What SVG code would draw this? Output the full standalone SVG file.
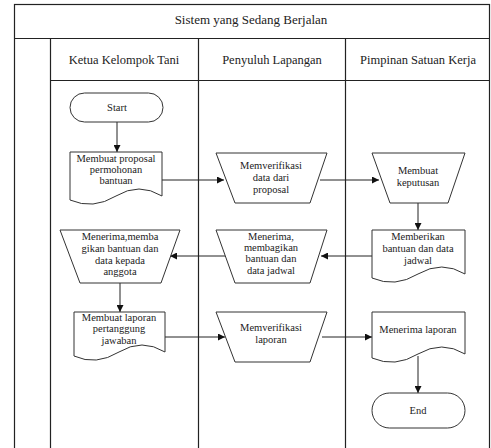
<svg xmlns="http://www.w3.org/2000/svg" width="491" height="448" viewBox="0 0 491 448">
<style>
.frame{fill:none;stroke:#222;stroke-width:1.2}
.shape{fill:#fff;stroke:#333;stroke-width:1}
.conn{fill:none;stroke:#222;stroke-width:1;marker-end:url(#arr)}
.t{font-size:10.5px}
.h{font-size:12.5px}
.ti{font-size:13px}
</style>
<defs>
<marker id="arr" viewBox="0 0 10 10" refX="10" refY="5" markerWidth="7" markerHeight="7" orient="auto" markerUnits="userSpaceOnUse">
<path d="M0,0 L10,5 L0,10 Z" fill="#111"/>
</marker>
</defs>
<rect x="0" y="0" width="491" height="448" fill="#fff"/>
<g font-family="Liberation Serif, DejaVu Serif, serif" fill="#222" text-anchor="middle">
<g id="frame">
<rect class="frame" x="14.5" y="4.5" width="475" height="450"/>
<line class="frame" x1="14" y1="38.5" x2="490" y2="38.5"/>
<line class="frame" x1="50.5" y1="38" x2="50.5" y2="448"/>
<line class="frame" x1="50" y1="80.5" x2="490" y2="80.5"/>
<line class="frame" x1="198.5" y1="38" x2="198.5" y2="448"/>
<line class="frame" x1="345.5" y1="38" x2="345.5" y2="448"/>
<text class="ti" x="251" y="24">Sistem yang Sedang Berjalan</text>
<text class="h" x="124" y="64">Ketua Kelompok Tani</text>
<text class="h" x="272" y="64">Penyuluh Lapangan</text>
<text class="h" x="418" y="64">Pimpinan Satuan Kerja</text>
</g>
<g id="connectors">
<line class="conn" x1="117" y1="122" x2="117" y2="152"/>
<line class="conn" x1="162" y1="180" x2="224" y2="180"/>
<line class="conn" x1="320" y1="180" x2="379" y2="180"/>
<line class="conn" x1="418" y1="203" x2="418" y2="230"/>
<line class="conn" x1="372" y1="256" x2="321" y2="256"/>
<line class="conn" x1="225" y1="256" x2="170" y2="256"/>
<line class="conn" x1="120" y1="283" x2="120" y2="312"/>
<line class="conn" x1="165" y1="337" x2="225" y2="337"/>
<line class="conn" x1="322" y1="337" x2="372" y2="337"/>
<line class="conn" x1="418" y1="356" x2="418" y2="393"/>
</g>
<g id="start">
<rect class="shape" x="70" y="93" width="93" height="29" rx="14.5"/>
<text class="t" x="117" y="111">Start</text>
</g>
<g id="doc-proposal">
<path class="shape" d="M70,152 H162 V196 Q139,182 116,196 Q93,210 70,200 Z"/>
<text class="t" x="116" y="162">Membuat proposal</text>
<text class="t" x="116" y="173">permohonan</text>
<text class="t" x="116" y="184">bantuan</text>
</g>
<g id="verif-data">
<path class="shape" d="M216,153 H327 L310,203 H235 Z"/>
<text class="t" x="271" y="169">Memverifikasi</text>
<text class="t" x="271" y="181">data dari</text>
<text class="t" x="271" y="193">proposal</text>
</g>
<g id="keputusan">
<path class="shape" d="M372,153 H465 L448,203 H390 Z"/>
<text class="t" x="418" y="174">Membuat</text>
<text class="t" x="418" y="186">keputusan</text>
</g>
<g id="memberikan">
<path class="shape" d="M372,230 H465 V274 Q442,260 418,274 Q395,288 372,278 Z"/>
<text class="t" x="418" y="240">Memberikan</text>
<text class="t" x="418" y="252">bantuan dan data</text>
<text class="t" x="418" y="264">jadwal</text>
</g>
<g id="menerima-membagikan">
<path class="shape" d="M216,230 H327 L310,283 H235 Z"/>
<text class="t" x="271" y="240">Menerima,</text>
<text class="t" x="271" y="251">membagikan</text>
<text class="t" x="271" y="262">bantuan dan</text>
<text class="t" x="271" y="274">data jadwal</text>
</g>
<g id="menerima-anggota">
<path class="shape" d="M60,230 H180 L161,283 H80 Z"/>
<text class="t" x="120" y="240">Menerima,memba</text>
<text class="t" x="120" y="252">gikan bantuan dan</text>
<text class="t" x="120" y="264">data kepada</text>
<text class="t" x="120" y="275">anggota</text>
</g>
<g id="laporan-pj">
<path class="shape" d="M74,312 H165 V352 Q142,338 119,352 Q96,366 74,356 Z"/>
<text class="t" x="119" y="321">Membuat laporan</text>
<text class="t" x="119" y="332">pertanggung</text>
<text class="t" x="119" y="344">jawaban</text>
</g>
<g id="verif-laporan">
<path class="shape" d="M216,312 H327 L310,362 H235 Z"/>
<text class="t" x="271" y="331">Memverifikasi</text>
<text class="t" x="271" y="343">laporan</text>
</g>
<g id="menerima-laporan">
<path class="shape" d="M372,312 H465 V354 Q442,340 418,354 Q395,368 372,358 Z"/>
<text class="t" x="418" y="333">Menerima laporan</text>
</g>
<g id="end">
<rect class="shape" x="372" y="393" width="93" height="35" rx="17.5"/>
<text class="t" x="418" y="414">End</text>
</g>
</g>
</svg>
